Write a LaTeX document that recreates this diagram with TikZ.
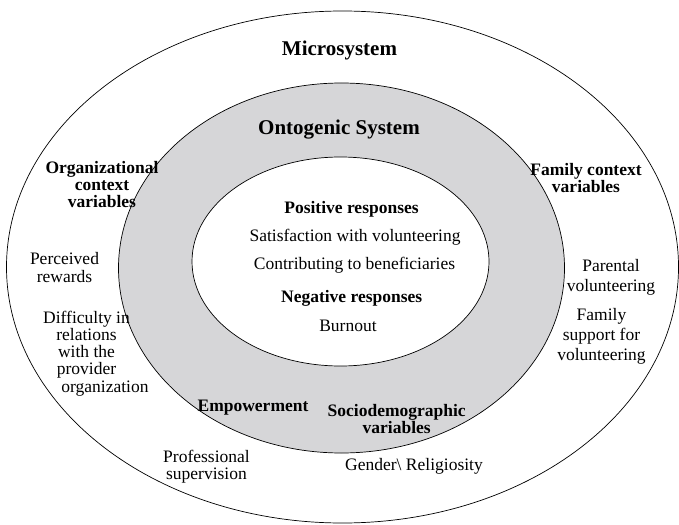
\documentclass[tikz,border=0pt]{standalone}
\usepackage{fontspec}
\setmainfont{Liberation Serif}
\definecolor{ringgray}{HTML}{D6D6D8}
\begin{document}
\begin{tikzpicture}[x=1pt,y=-1pt,
  ring/.style={draw=black, line width=0.7pt},
  head/.style={font=\bfseries\fontsize{21}{21}\selectfont, inner sep=0pt},
  sub/.style={font=\bfseries\fontsize{17.5}{17}\selectfont, align=center, inner sep=0pt},
  item/.style={font=\fontsize{17.5}{17.2}\selectfont, align=center, inner sep=0pt},
  itemwide/.style={font=\fontsize{17.5}{20}\selectfont, align=center, inner sep=0pt}]
\useasboundingbox (0,0) rectangle (679,524);

% nested systems
\draw[ring, fill=white] (342.5,267) ellipse [x radius=336, y radius=256];
\draw[ring, fill=ringgray] (341.5,268) ellipse [x radius=223, y radius=185];
\draw[ring, fill=white] (340.5,261.5) ellipse [x radius=148.5, y radius=104.5];

% system titles
\node[head] (micro) at (339.5,50) {Microsystem};
\node[head] (onto) at (339,130) {Ontogenic System};

% responses
\node[sub] (pos) at (351.5,209) {Positive responses};
\node[item] (sat) at (355,237) {Satisfaction with volunteering};
\node[item] (contr) at (354.5,265) {Contributing to beneficiaries};
\node[sub] (neg) at (351.7,298) {Negative responses};
\node[item] (burn) at (348,326) {Burnout};

% organizational context
\node[sub] (org) at (102,185) {Organizational\\context\\variables};
\node[item] (rew) at (64.5,267.5) {Perceived\\rewards};
\node[item] (diff) at (86.5,353.5) {Difficulty in\\relations\\with the\\provider\\\hspace*{37pt}organization};

% family context
\node[sub] (fam) at (586,178.5) {Family context\\variables};
\node[itemwide] (par) at (611,277) {Parental\\volunteering};
\node[itemwide] (fsup) at (601.5,336.7) {Family\\support for\\volunteering};

% ontogenic factors
\node[sub] (emp) at (253,408) {Empowerment};
\node[sub] (socio) at (396.7,419.5) {Sociodemographic\\variables};
\node[item] (prof) at (206.5,466.5) {Professional\\supervision};
\node[item] (gend) at (414,466) {Gender\textbackslash{} Religiosity};
\end{tikzpicture}
\end{document}
